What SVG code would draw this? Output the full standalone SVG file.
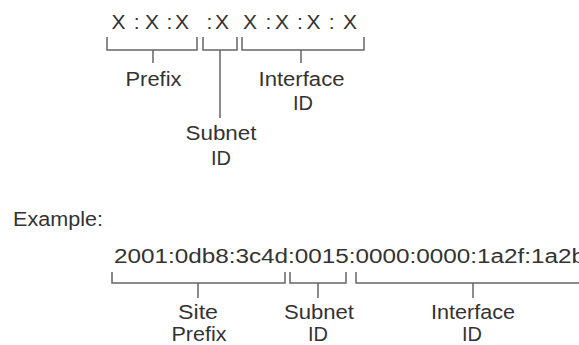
<svg xmlns="http://www.w3.org/2000/svg" width="579" height="345" viewBox="0 0 579 345">
<style>
.t{font-family:"Liberation Sans",Arial,sans-serif;font-size:20px;fill:#333}
.m{text-anchor:middle}
.b{fill:none;stroke:#666;stroke-width:1.5}
</style>
<rect width="579" height="345" fill="#fff"/>
<g id="format">
<text class="t" style="font-size:21px" x="111.5 133.8 145 166.4 175 206.4 215 243 265.4 275 297.1 306.5 328.8 343" y="29">X:X:X:XX:X:X:X</text>
</g>
<g id="connectors">
<path class="b" d="M107,37V50H197V37M153,50V63"/>
<path class="b" d="M203,37V50H237V37M220,50V118"/>
<path class="b" d="M242,37V50H364V37M301,50V63"/>
<path class="b" d="M112,272V283H285V272M198,283V298"/>
<path class="b" d="M290,272V283H346V272M318,283V298"/>
<path class="b" d="M356,272V283H582M473,283V298"/>
</g>
<g id="prefix-label"><text class="t m" x="153.5" y="86" textLength="56" lengthAdjust="spacingAndGlyphs">Prefix</text></g>
<g id="interface-label"><text class="t m" x="301.5" y="86" textLength="86" lengthAdjust="spacingAndGlyphs">Interface</text><text class="t m" x="303" y="110">ID</text></g>
<g id="subnet-label"><text class="t m" x="221" y="140" textLength="71" lengthAdjust="spacingAndGlyphs">Subnet</text><text class="t m" x="221" y="165">ID</text></g>
<g id="example"><text class="t" x="13" y="226" textLength="90" lengthAdjust="spacingAndGlyphs">Example:</text></g>
<g id="address"><text class="t" x="114" y="263" textLength="471" lengthAdjust="spacingAndGlyphs">2001:0db8:3c4d:0015:0000:0000:1a2f:1a2b</text></g>
<g id="site-prefix-label"><text class="t m" x="198" y="319" textLength="40" lengthAdjust="spacingAndGlyphs">Site</text><text class="t m" x="199" y="340.5" textLength="55" lengthAdjust="spacingAndGlyphs">Prefix</text></g>
<g id="subnet-id-label"><text class="t m" x="319" y="319" textLength="70" lengthAdjust="spacingAndGlyphs">Subnet</text><text class="t m" x="318" y="340.5">ID</text></g>
<g id="interface-id-label"><text class="t m" x="473" y="319" textLength="84" lengthAdjust="spacingAndGlyphs">Interface</text><text class="t m" x="472" y="340.5">ID</text></g>
</svg>
